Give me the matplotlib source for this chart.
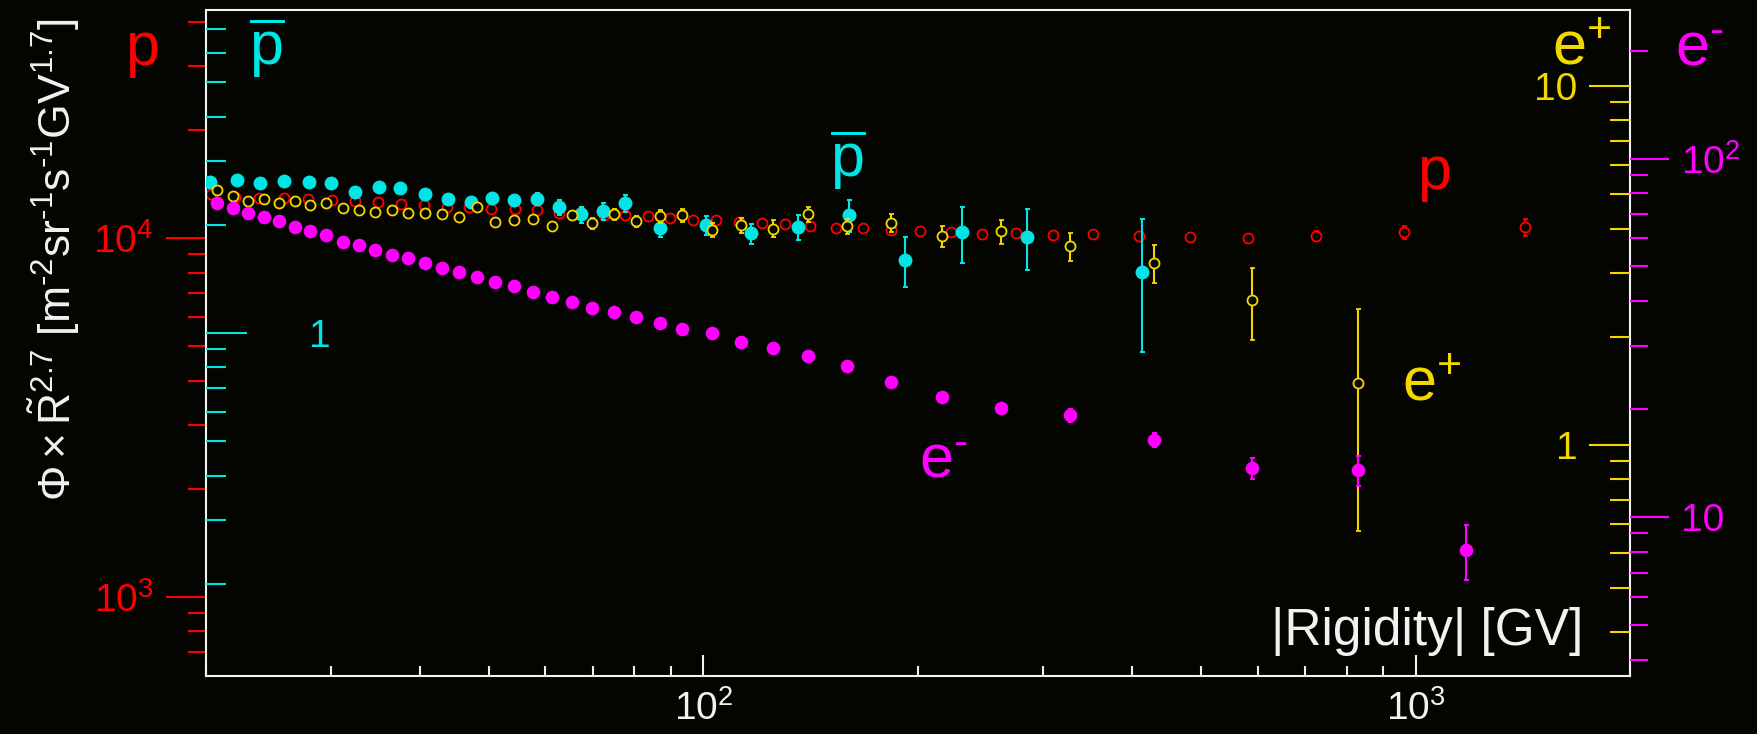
"""
Cosmic-ray spectra Phi x R^2.7 for p, pbar, e+ and e- versus |Rigidity|.
Each species gets its own log y-scale, drawn as a separate tick set on the frame.
"""

import numpy as np
import matplotlib
matplotlib.use('Agg')
import matplotlib.pyplot as plt
from matplotlib.ticker import LogLocator, FuncFormatter, NullFormatter

plt.rcParams['font.family'] = ['Liberation Sans', 'DejaVu Sans']
plt.rcParams['mathtext.fontset'] = 'custom'
plt.rcParams['mathtext.rm'] = 'Liberation Sans'
plt.rcParams['mathtext.it'] = 'Liberation Sans:italic'
plt.rcParams['mathtext.bf'] = 'Liberation Sans:bold'

BG      = '#040400'
WHITE   = '#f2f2f2'
RED     = '#ff0000'
CYAN    = '#00e5e5'
YELLOW  = '#f2d800'
MAGENTA = '#ff00ff'

FIG_W, FIG_H = 1758, 734
DPI = 100
PT = 72.0 / DPI          # points per pixel
HYPHEN = '\u2010'        # short dash, mathtext turns '-' into a long minus

# ---------------- data ----------------
# protons
RIG_P = [20.35, 22.01, 23.78, 25.76, 27.84, 30.05, 32.37, 34.89, 37.58, 40.52,
         43.70, 46.93, 50.37, 54.31, 58.39, 62.68, 67.39, 72.39, 77.71, 83.54,
         89.87, 96.70, 104.3, 112.0, 120.8, 130.2, 141.1, 153.7, 167.4, 183.5,
         201.2, 222.3, 246.2, 274.4, 310.1, 352.9, 408.8, 482.0, 581.4, 725.2,
         962.5, 1425]
FLUX_P = [13220, 13010, 12900, 12900, 12800, 12760, 12620, 12570, 12410, 12330,
          12200, 12140, 12060, 12020, 11910, 11740, 11760, 11570, 11540, 11460,
          11350, 11220, 11170, 11030, 10990, 10890, 10750, 10660, 10610, 10530,
          10410, 10350, 10270, 10280, 10150, 10210, 10080, 10020, 9955, 10130,
          10350, 10680]
ERR_P = [40, 40, 40, 40, 40, 45, 45, 45, 45, 45,
         50, 50, 50, 50, 55, 55, 55, 60, 60, 60,
         65, 65, 70, 70, 75, 75, 80, 85, 90, 95,
         100, 110, 120, 130, 140, 160, 180, 200, 260, 335,
         445, 565]

# antiprotons
RIG_PBAR = [20.30, 22.11, 23.82, 25.78, 27.96, 29.95, 32.37, 35.04, 37.49, 40.68,
            43.82, 47.16, 50.45, 54.14, 58.40, 62.71, 67.24, 72.24, 77.71, 86.77,
            100.8, 116.7, 135.6, 160.2, 192.0, 230.8, 285.1, 413.4]
FLUX_PBAR = [2.630, 2.665, 2.615, 2.648, 2.630, 2.615, 2.467, 2.547, 2.531, 2.427,
             2.357, 2.314, 2.365, 2.344, 2.357, 2.234, 2.136, 2.183, 2.298, 1.952,
             1.993, 1.890, 1.967, 2.122, 1.597, 1.902, 1.851, 1.477]
ERR_PBAR = [0.02, 0.02, 0.02, 0.02, 0.025, 0.03, 0.03, 0.035, 0.04, 0.045,
            0.05, 0.06, 0.07, 0.08, 0.09, 0.11, 0.11, 0.12, 0.125, 0.11,
            0.12, 0.12, 0.155, 0.215, 0.255, 0.34, 0.36, 0.595]

# electrons / positrons share the same rigidity bins
RIG_LEP = [20.73, 21.83, 22.96, 24.13, 25.32, 26.67, 28.04, 29.53, 31.20, 32.86,
           34.57, 36.48, 38.53, 40.65, 43.00, 45.38, 48.05, 50.90, 54.14, 57.64,
           61.35, 65.43, 69.80, 74.80, 80.50, 87.00, 93.40, 102.8, 113.0, 125.3,
           140.2, 159.0, 183.5, 216.2, 261.8, 326.6, 429.0, 589.0, 831.0, 1177]
FLUX_EPOS = [5.116, 4.932, 4.762, 4.836, 4.714, 4.762, 4.654, 4.716, 4.559, 4.515,
             4.449, 4.500, 4.415, 4.415, 4.395, 4.297, 4.594, 4.162, 4.216, 4.243,
             4.062, 4.352, 4.133, 4.384, 4.188, 4.322, 4.352, 3.963, 4.080, 3.997,
             4.392, 4.057, 4.146, 3.806, 3.928, 3.567, 3.213, 2.530, 1.485]
ERR_EPOS = [0.03, 0.03, 0.035, 0.035, 0.04, 0.04, 0.045, 0.045, 0.05, 0.05,
            0.055, 0.06, 0.06, 0.065, 0.07, 0.075, 0.08, 0.085, 0.09, 0.10,
            0.10, 0.12, 0.14, 0.15, 0.16, 0.17, 0.19, 0.17, 0.20, 0.22,
            0.215, 0.20, 0.235, 0.255, 0.295, 0.317, 0.385, 0.567, 0.91]
FLUX_ELEC = [75.3, 72.9, 70.4, 68.6, 67.1, 64.4, 62.6, 61.0, 58.5, 57.2,
             55.4, 53.7, 52.8, 51.1, 49.4, 48.1, 46.8, 45.2, 44.0, 42.5,
             41.0, 39.8, 38.4, 37.4, 36.2, 34.85, 33.55, 32.6, 30.8, 29.6,
             28.1, 26.4, 23.8, 21.6, 20.1, 19.2, 16.4, 13.7, 13.5, 8.09]
ERR_ELEC = [0.2, 0.2, 0.2, 0.2, 0.2, 0.2, 0.2, 0.2, 0.2, 0.2,
            0.2, 0.2, 0.2, 0.2, 0.2, 0.2, 0.2, 0.2, 0.2, 0.2,
            0.2, 0.2, 0.2, 0.2, 0.25, 0.25, 0.25, 0.3, 0.3, 0.3,
            0.35, 0.4, 0.4, 0.45, 0.5, 0.75, 0.75, 0.93, 1.33, 1.42]

# axis ranges (one per species, all sharing the same decade height)
X_RANGE    = (20, 2000)
P_RANGE    = (601, 43100)
PBAR_RANGE = (0.1106, 7.923)
EPOS_RANGE = (0.2268, 16.25)
ELEC_RANGE = (3.602, 259.6)


def root_log_label(v, pos):
    """1, 10, 10^2, 10^3 ... as ROOT prints log axes"""
    n = int(round(np.log10(v)))
    if n == 0:
        return '1'
    if n == 1:
        return '10'
    return r'$10^{%d}$' % n


def setup_log_y(axis, lim, color, side, direction, major_px, minor_px, pad):
    axis.set_yscale('log')
    axis.set_ylim(*lim)
    axis.yaxis.set_major_locator(LogLocator(base=10))
    axis.yaxis.set_minor_locator(LogLocator(base=10, subs=np.arange(2, 10)))
    axis.yaxis.set_major_formatter(FuncFormatter(root_log_label))
    axis.yaxis.set_minor_formatter(NullFormatter())
    left = side == 'left'
    axis.tick_params(axis='y', which='both', direction=direction, colors=color,
                     left=left, right=not left, labelleft=left, labelright=not left,
                     labelsize=28, pad=pad, width=1.5)
    axis.tick_params(axis='y', which='major', length=major_px * PT)
    axis.tick_params(axis='y', which='minor', length=minor_px * PT)


def fig_text(fig, px, py, s, color, ha='left', size=44):
    fig.text(px / FIG_W, 1 - py / FIG_H, s, color=color, fontsize=size,
             ha=ha, va='baseline')


fig = plt.figure(figsize=(FIG_W / DPI, FIG_H / DPI), dpi=DPI, facecolor=BG)
ax = fig.add_axes([205.7 / FIG_W, 1 - 676 / FIG_H,
                   (1630 - 205.7) / FIG_W, (676 - 10) / FIG_H])
ax.set_facecolor(BG)
for s in ax.spines.values():
    s.set_color(WHITE)
    s.set_linewidth(1.5)

ax_pb = ax.twinx()
ax_ep = ax.twinx()
ax_em = ax.twinx()
for a in (ax_pb, ax_ep, ax_em):
    for s in a.spines.values():
        s.set_visible(False)

# x axis
ax.set_xscale('log')
ax.set_xlim(*X_RANGE)
ax.xaxis.set_major_locator(LogLocator(base=10))
ax.xaxis.set_minor_locator(LogLocator(base=10, subs=np.arange(2, 10)))
ax.xaxis.set_major_formatter(FuncFormatter(root_log_label))
ax.xaxis.set_minor_formatter(NullFormatter())
ax.tick_params(axis='x', which='both', direction='in', colors=WHITE,
               bottom=True, top=False, labelsize=28, pad=10, width=1.5)
ax.tick_params(axis='x', which='major', length=21 * PT)
ax.tick_params(axis='x', which='minor', length=10 * PT)

# the four y scales
setup_log_y(ax,    P_RANGE,    RED,     'left',  'out', 40, 18, 9)
setup_log_y(ax_pb, PBAR_RANGE, CYAN,    'left',  'in',  41, 20, -90)
setup_log_y(ax_ep, EPOS_RANGE, YELLOW,  'right', 'in',  41, 20, -38)
setup_log_y(ax_em, ELEC_RANGE, MAGENTA, 'right', 'out', 39, 18, 9)
for t in ax_ep.yaxis.get_major_ticks():
    t.label2.set_horizontalalignment('right')

# data points
ax.errorbar(RIG_P, FLUX_P, yerr=ERR_P, fmt='o', ms=7.2, mfc=BG, mec=RED, mew=1.3,
            ecolor=RED, elinewidth=1.5, capsize=1.8, capthick=1.5)
ax_pb.errorbar(RIG_PBAR, FLUX_PBAR, yerr=ERR_PBAR, fmt='o', ms=9, color=CYAN,
               elinewidth=1.5, capsize=1.8, capthick=1.5)
ax_ep.errorbar(RIG_LEP[:len(FLUX_EPOS)], FLUX_EPOS, yerr=ERR_EPOS, fmt='o', ms=7.2,
               mfc=BG, mec=YELLOW, mew=1.3, ecolor=YELLOW, elinewidth=1.5,
               capsize=1.8, capthick=1.5)
ax_em.errorbar(RIG_LEP, FLUX_ELEC, yerr=ERR_ELEC, fmt='o', ms=8.8, color=MAGENTA,
               elinewidth=1.5, capsize=1.8, capthick=1.5)

# axis titles, ROOT style
ax.set_xlabel('|Rigidity| [GV]', color=WHITE, fontsize=37, ha='right', va='baseline')
ax.xaxis.set_label_coords((1583 - 205.7) / (1630 - 205.7), (676 - 645) / 666)
ylab = (r'$\Phi\times\tilde{\mathrm{R}}^{2.7}$ '
        r'[m$^{%s2}$sr$^{%s1}$s$^{%s1}$GV$^{1.7}$]' % (HYPHEN, HYPHEN, HYPHEN))
ax.set_ylabel(ylab, color=WHITE, fontsize=32, ha='center', va='center')
ax.yaxis.set_label_coords((54 - 205.7) / (1630 - 205.7), (676 - 260) / 666)

# species tags
pbar = r'$\overline{\mathrm{p}}$'
e_pos = r'$\mathrm{e}^{+}$'
e_neg = r'$\mathrm{e}^{%s}$' % HYPHEN
fig_text(fig, 142, 65, 'p', RED, ha='center')
fig_text(fig, 266.5, 65, pbar, CYAN, ha='center')
fig_text(fig, 847.5, 177, pbar, CYAN, ha='center')
fig_text(fig, 1434, 189, 'p', RED, ha='center')
fig_text(fig, 1402, 400, e_pos, YELLOW)
fig_text(fig, 919, 477, e_neg, MAGENTA)
fig_text(fig, 1552, 64, e_pos, YELLOW)
fig_text(fig, 1675, 66, e_neg, MAGENTA)

fig.savefig('out.png', dpi=DPI, facecolor=BG)
